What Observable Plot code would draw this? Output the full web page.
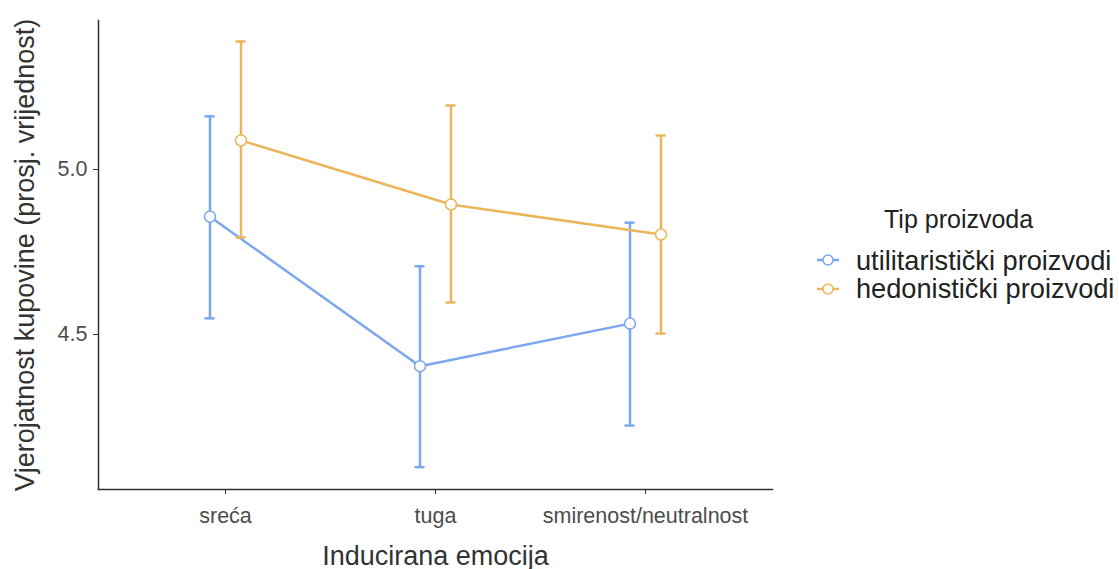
<!DOCTYPE html>
<html>
<head>
<meta charset="utf-8">
<script src="https://cdn.jsdelivr.net/npm/d3@7"></script>
<script src="https://cdn.jsdelivr.net/npm/@observablehq/plot@0.6"></script>
<style>
  html, body { margin: 0; padding: 0; background: #fff; }
  body { width: 1119px; height: 569px; position: relative; overflow: hidden; font-family: "Liberation Sans", Arial, sans-serif; }
  #chart { position: absolute; left: 0; top: 0; }
  .leg { position: absolute; font-size: 27.2px; line-height: 27px; color: #222; white-space: nowrap; }
  .legtitle { font-size: 25px; }
  .key { position: absolute; }
</style>
</head>
<body>
<div id="chart"></div>
<div id="legend"></div>
<script>
// ---- data ----
const categories = ["sreća", "tuga", "smirenost/neutralnost"];
const seriesNames = ["utilitaristički proizvodi", "hedonistički proizvodi"];
const seriesColors = ["#7BA7EE", "#EBB55B"];

const utilMean = [4.857, 4.404, 4.533];
const utilLow  = [4.549, 4.098, 4.224];
const utilHigh = [5.161, 4.707, 4.839];

const hedMean = [5.088, 4.894, 4.803];
const hedLow  = [4.794, 4.597, 4.503];
const hedHigh = [5.388, 5.194, 5.103];

const yTicks = [4.5, 5.0];

// ---- build rows ----
function rows(mean, low, high, name) {
  return categories.map((c, i) => ({cat: c, mean: mean[i], low: low[i], high: high[i], series: name}));
}
const utilRows = rows(utilMean, utilLow, utilHigh, seriesNames[0]);
const hedRows = rows(hedMean, hedLow, hedHigh, seriesNames[1]);

const dodge = 15.5;
function seriesMarks(data, color, dx) {
  return [
    Plot.ruleX(data, {x: "cat", y1: "low", y2: "high", stroke: color, strokeWidth: 2.5, dx}),
    Plot.ruleY(data, {x1: "cat", x2: "cat", y: "low", stroke: color, strokeWidth: 2.5, dx, insetLeft: -5, insetRight: -5}),
    Plot.ruleY(data, {x1: "cat", x2: "cat", y: "high", stroke: color, strokeWidth: 2.5, dx, insetLeft: -5, insetRight: -5}),
    Plot.line(data, {x: "cat", y: "mean", stroke: color, strokeWidth: 2.5, dx}),
    Plot.dot(data, {x: "cat", y: "mean", r: 5.5, fill: "white", stroke: color, strokeWidth: 1.5, dx})
  ];
}

const chart = Plot.plot({
  width: 800,
  height: 569,
  marginLeft: 98,
  marginRight: 28,
  marginTop: 20,
  marginBottom: 80,
  style: {fontFamily: "'Liberation Sans', Arial, sans-serif", background: "white", overflow: "visible"},
  x: {type: "point", domain: categories, padding: 0.602},
  y: {domain: [4.0303, 5.4515]},
  marks: [
    Plot.frame({anchor: "left", stroke: "#333", strokeWidth: 1.5}),
    Plot.frame({anchor: "bottom", stroke: "#333", strokeWidth: 1.5}),
    Plot.axisX({tickSize: 5, tickPadding: 13, fontSize: 21.5, color: "#4d4d4d", stroke: "#333",
      label: "Inducirana emocija", labelAnchor: "center", labelOffset: 75}),
    Plot.axisY(yTicks, {tickSize: 5, tickPadding: 6, fontSize: 21.5, color: "#4d4d4d", stroke: "#333", tickFormat: d3.format(".1f"),
      label: "Vjerojatnost kupovine (prosj. vrijednost)", labelAnchor: "center", labelOffset: 84, labelArrow: "none"}),
    ...seriesMarks(utilRows, seriesColors[0], -dodge),
    ...seriesMarks(hedRows, seriesColors[1], dodge)
  ]
});
document.getElementById("chart").appendChild(chart);

// axis label styling
chart.querySelectorAll("g[aria-label='x-axis label'] text, g[aria-label='y-axis label'] text").forEach(t => {
  t.setAttribute("font-size", 27);
  t.setAttribute("fill", "#333");
});

// ---- legend ----
const legend = document.getElementById("legend");
const title = document.createElement("div");
title.className = "leg legtitle";
title.style.left = "884px";
title.style.top = "206px";
title.textContent = "Tip proizvoda";
legend.appendChild(title);
const tops = [247, 275];
const keyTops = [252, 281];
seriesNames.forEach((name, i) => {
  const key = document.createElementNS("http://www.w3.org/2000/svg", "svg");
  key.setAttribute("class", "key");
  key.setAttribute("width", 24);
  key.setAttribute("height", 16);
  key.style.left = "816px";
  key.style.top = keyTops[i] + "px";
  const ln = document.createElementNS("http://www.w3.org/2000/svg", "line");
  ln.setAttribute("x1", 1); ln.setAttribute("x2", 23); ln.setAttribute("y1", 8); ln.setAttribute("y2", 8);
  ln.setAttribute("stroke", seriesColors[i]); ln.setAttribute("stroke-width", 2.5);
  const c = document.createElementNS("http://www.w3.org/2000/svg", "circle");
  c.setAttribute("cx", 12); c.setAttribute("cy", 8); c.setAttribute("r", 5);
  c.setAttribute("fill", "white"); c.setAttribute("stroke", seriesColors[i]); c.setAttribute("stroke-width", 1.5);
  key.appendChild(ln); key.appendChild(c);
  legend.appendChild(key);
  const t = document.createElement("div");
  t.className = "leg";
  t.style.left = "856px";
  t.style.top = tops[i] + "px";
  t.textContent = name;
  legend.appendChild(t);
});
</script>
</body>
</html>
